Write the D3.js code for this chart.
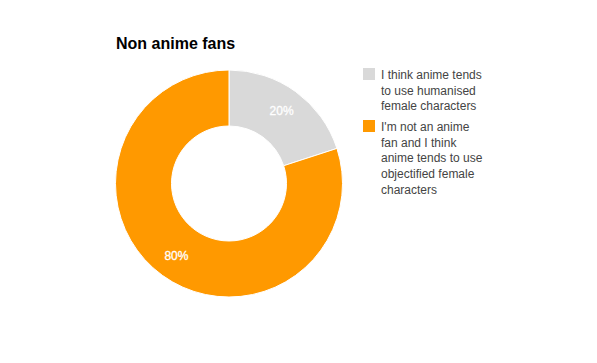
<!DOCTYPE html>
<html>
<head>
<meta charset="utf-8">
<script src="https://cdn.jsdelivr.net/npm/d3@7"></script>
<style>
	body { margin: 0; background: #fff; }
	text { font-family: Arial, "Liberation Sans", sans-serif; }
</style>
</head>
<body>
<svg id="chart" width="597" height="363"></svg>
<script>
var labels = ["I think anime tends to use humanised female characters",
	"I'm not an anime fan and I think anime tends to use objectified female characters"];
var legendLines = [
	["I think anime tends", "to use humanised", "female characters"],
	["I'm not an anime", "fan and I think", "anime tends to use", "objectified female", "characters"]
];
var values = [20, 80];
var colors = ["#d9d9d9", "#ff9900"];

var svg = d3.select("#chart"),
	cx = 229,
	cy = 183.5,
	outer = 113.5,
	inner = 57.5;

svg.append("text")
	.attr("x", 116)
	.attr("y", 49)
	.attr("font-size", 16)
	.attr("font-weight", "bold")
	.attr("fill", "#000")
	.text("Non anime fans");

var pie = d3.pie().sort(null).value(function(d) { return d; });
var arc = d3.arc().innerRadius(inner).outerRadius(outer);
var labelArc = d3.arc().innerRadius(89.5).outerRadius(89.5);
var total = d3.sum(values);

var g = svg.append("g").attr("transform", "translate(" + cx + "," + cy + ")");
var arcs = pie(values);

g.selectAll("path")
	.data(arcs)
	.enter().append("path")
	.attr("d", arc)
	.attr("fill", function(d, i) { return colors[i]; })
	.attr("stroke", "#fff")
	.attr("stroke-width", 1);

g.selectAll("text")
	.data(arcs)
	.enter().append("text")
	.attr("transform", function(d) { return "translate(" + labelArc.centroid(d) + ")"; })
	.attr("text-anchor", "middle")
	.attr("dy", "0.35em")
	.attr("font-size", 12)
	.attr("fill", "#fff")
	.attr("stroke", "#fff")
	.attr("stroke-width", 0.3)
	.text(function(d) { return Math.round(d.data / total * 100) + "%"; });

// legend
var legend = svg.append("g");
var itemY = [68, 120];
legendLines.forEach(function(lines, i) {
	var item = legend.append("g").attr("transform", "translate(363," + itemY[i] + ")");
	item.append("rect")
		.attr("width", 12)
		.attr("height", 12)
		.attr("fill", colors[i]);
	var t = item.append("text")
		.attr("x", 18)
		.attr("y", 11)
		.attr("font-size", 12)
		.attr("fill", "#444");
	t.append("title").text(labels[i]);
	lines.forEach(function(line, j) {
		t.append("tspan")
			.attr("x", 18)
			.attr("y", 11 + j * 15.7)
			.text(line);
	});
});
</script>
</body>
</html>
